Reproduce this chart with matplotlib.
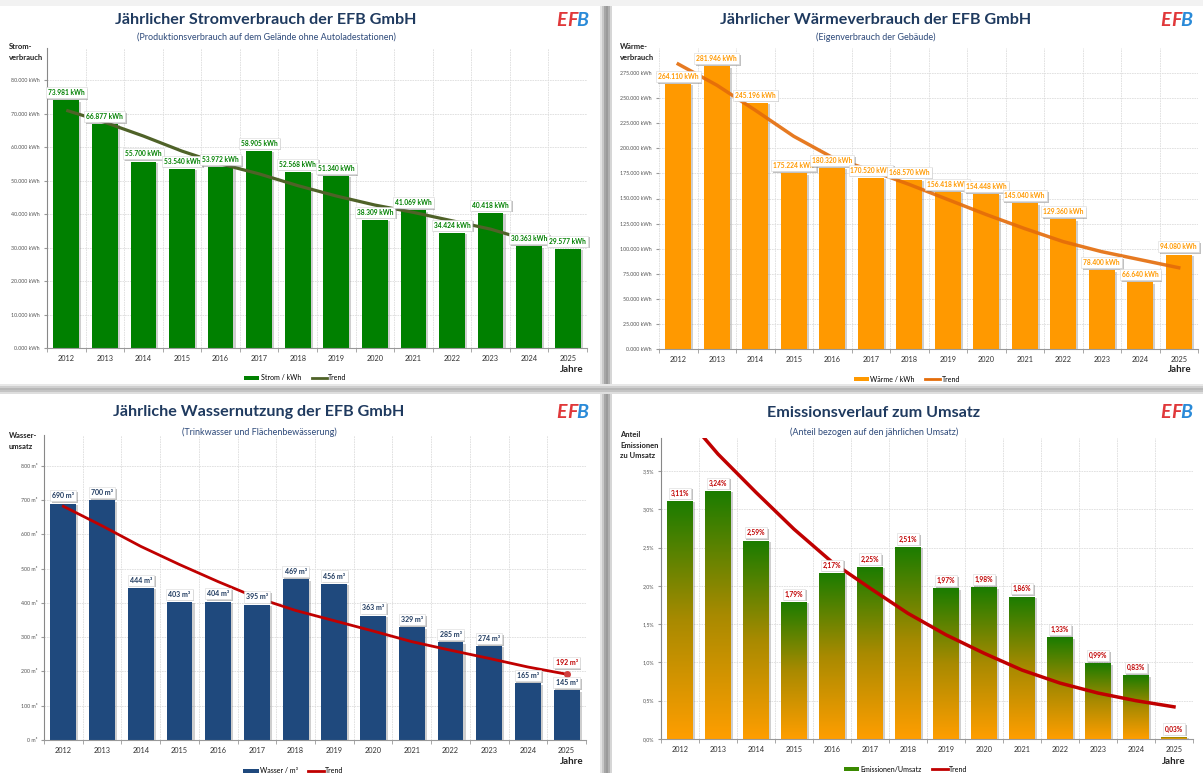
import numpy as np
import matplotlib
matplotlib.use("Agg")
import matplotlib.pyplot as plt
from matplotlib.patches import Rectangle, Patch
from matplotlib.lines import Line2D
from matplotlib.colors import LinearSegmentedColormap
import matplotlib.patheffects as pe

plt.rcParams["font.family"] = ["Lato", "DejaVu Sans"]

years = list(range(2012, 2026))

strom = [73981, 66877, 55700, 53540, 53972, 58905, 52568,
         51340, 38309, 41069, 34424, 40418, 30363, 29577]
strom_trend_years = [2012, 2013, 2014, 2015, 2016, 2017, 2018,
                     2019, 2020, 2021, 2022, 2023, 2023.5]
strom_trend = [71000, 67400, 63300, 58800, 55000, 52000, 48500,
               45400, 42700, 40500, 38000, 35500, 33800]

waerme = [264110, 281946, 245196, 175224, 180320, 170520, 168570,
          156418, 154448, 145040, 129360, 78400, 66640, 94080]
waerme_trend = [284000, 263000, 238000, 212000, 191000, 178000, 164000,
                149000, 134000, 120000, 107000, 97000, 89000, 81000]

wasser = [690, 700, 444, 403, 404, 395, 469, 456, 363, 329, 285, 274, 165, 145]
wasser_trend = [682, 625, 565, 512, 462, 415, 378, 348, 318, 287, 262, 238, 213, 192]

emission = [3.11, 3.24, 2.59, 1.79, 2.17, 2.25, 2.51,
            1.97, 1.98, 1.86, 1.33, 0.99, 0.83, 0.03]
emission_trend = [4.30, 3.72, 3.22, 2.74, 2.31, 1.97, 1.64,
                  1.36, 1.12, 0.90, 0.73, 0.60, 0.50, 0.42]

W, H = 1203, 773
fig = plt.figure(figsize=(W / 100, H / 100), dpi=100)
fig.patch.set_facecolor("white")

NAVY = "#1F3A5F"


def px_axes(l, t, r, b):
    return fig.add_axes([l / W, 1 - b / H, (r - l) / W, (b - t) / H])


def ftext(x, y, s, **kw):
    return fig.text(x / W, 1 - y / H, s, **kw)


def frect(x0, y0, x1, y1, color, z=-5):
    fig.add_artist(Rectangle((x0 / W, 1 - y1 / H), (x1 - x0) / W, (y1 - y0) / H,
                             transform=fig.transFigure, fc=color, ec="none", zorder=z))


# panel separators / shadows
for i, c in enumerate(["#e4e4e4", "#c8c8c8", "#a6a6a6", "#9a9a9a", "#b0b0b0", "#d6d6d6"]):
    frect(600 + 2 * i, 0, 602 + 2 * i, H, c)
for i, c in enumerate(["#e8e8e8", "#cfcfcf", "#b8b8b8", "#c4c4c4", "#dedede"]):
    frect(0, 384 + 2 * i, W, 386 + 2 * i, c)
frect(0, 0, W, 6, "#f2f2f2")


def de_num(v):
    if v == 0:
        return "0.000"
    return f"{v:,.0f}".replace(",", ".")


def logo(x, y):
    ftext(x, y, "E", color="#E0383A", fontsize=14, fontweight="bold",
          fontstyle="italic", va="center", ha="left")
    ftext(x + 11, y, "F", color="#E0383A", fontsize=14, fontweight="bold",
          fontstyle="italic", va="center", ha="left")
    ftext(x + 20, y, "B", color="#2A8AD8", fontsize=14, fontweight="bold",
          fontstyle="italic", va="center", ha="left")


def header(cx, ty, sy, title, sub, lx, ly):
    ftext(cx, ty, title, ha="center", va="center", fontsize=11.6,
          fontweight="bold", color=NAVY)
    ftext(cx, sy, sub, ha="center", va="center", fontsize=6.5, color="#2E4A7A")
    logo(lx, ly)


def base_axes(box, ymax, ticks, fmt, ylab, ylab_xy, jahre_xy):
    ax = px_axes(*box)
    x = np.arange(len(years))
    ax.set_xlim(-0.5, len(years) - 0.5)
    ax.set_ylim(0, ymax)
    ax.set_xticks(x)
    ax.set_xticklabels([str(y) for y in years], fontsize=5.3, color="#333333")
    ax.set_xticks(np.arange(len(years) + 1) - 0.5, minor=True)
    ax.tick_params(axis="x", which="major", length=0, pad=5)
    ax.tick_params(axis="x", which="minor", length=3, color="#999999")
    ax.set_yticks(ticks)
    ax.set_yticklabels([fmt(t) for t in ticks], fontsize=3.8, color="#555555")
    ax.tick_params(axis="y", length=2, color="#999999", pad=3)
    ax.grid(True, which="minor", axis="x", color="#dddddd", lw=0.6, ls=(0, (2, 1)))
    ax.grid(True, which="major", axis="y", color="#dddddd", lw=0.6, ls=(0, (2, 1)))
    ax.set_axisbelow(True)
    for s in ["top", "right"]:
        ax.spines[s].set_visible(False)
    ax.spines["left"].set_color("#888888")
    ax.spines["bottom"].set_color("#999999")
    ax.spines["left"].set_linewidth(0.8)
    ax.spines["bottom"].set_linewidth(0.8)
    ftext(ylab_xy[0], ylab_xy[1], ylab, fontsize=5.5, fontweight="bold",
          color="#222222", va="top", ha="left", linespacing=1.6)
    ftext(jahre_xy[0], jahre_xy[1], "Jahre", fontsize=7, fontweight="bold",
          color="#222222", ha="center", va="center")
    return ax


def value_labels(ax, values, texts, color, fs=4.8):
    for i, (v, s) in enumerate(zip(values, texts)):
        t = ax.annotate(s, (i, v), xytext=(0, 3), textcoords="offset points",
                        ha="center", va="bottom", fontsize=fs, fontweight="bold",
                        color=color, zorder=6,
                        bbox=dict(boxstyle="square,pad=0.3", fc="white",
                                  ec="#d8d8d8", lw=0.4))
        t.get_bbox_patch().set_path_effects(
            [pe.SimplePatchShadow(offset=(1.2, -1.2), shadow_rgbFace="#777777", alpha=0.45),
             pe.Normal()])


def legend(ax, bar_color, label, trend_color):
    handles = [Patch(fc=bar_color, ec="none"),
               Line2D([], [], color=trend_color, lw=2)]
    ax.legend(handles, [label, "Trend"], loc="center", bbox_to_anchor=(0.46, -0.1),
              ncol=2, frameon=False, fontsize=5, handlelength=2.2, handleheight=0.5,
              columnspacing=1.5, handletextpad=0.2)


bar_shadow = [pe.SimplePatchShadow(offset=(1.5, -1), shadow_rgbFace="#888888", alpha=0.4),
              pe.Normal()]
x = np.arange(len(years))

# ---- Strom ----
header(266, 20, 37, "Jährlicher Stromverbrauch der EFB GmbH",
       "(Produktionsverbrauch auf dem Gelände ohne Autoladestationen)", 556, 20)
ax1 = base_axes((47, 48, 587, 348), 89600, np.arange(0, 80001, 10000),
                lambda v: f"{de_num(v)} kWh", "Strom-\nverbrauch", (9, 43), (572, 370))
ax1.bar(x, strom, width=0.67, color="#008000", zorder=2, path_effects=bar_shadow)
ax1.plot([y - 2012 for y in strom_trend_years], strom_trend, color="#4F6228",
         lw=2.3, zorder=4, solid_capstyle="butt")
value_labels(ax1, strom, [f"{de_num(v)} kWh" for v in strom], "#008000")
legend(ax1, "#008000", "Strom / kWh", "#4F6228")

# ---- Wärme ----
header(876, 20, 37, "Jährlicher Wärmeverbrauch der EFB GmbH",
       "(Eigenverbrauch der Gebäude)", 1160, 20)
ax2 = base_axes((659, 48, 1198, 349), 300000, np.arange(0, 275001, 25000),
                lambda v: f"{de_num(v)} kWh", "Wärme-\nverbrauch", (620, 43), (1180, 370))
ax2.spines["left"].set_visible(False)
ax2.bar(x, waerme, width=0.67, color="#FF9900", zorder=2, path_effects=bar_shadow)
ax2.plot(x, waerme_trend, color="#E46C0A", lw=2.5, zorder=4, alpha=0.9)
value_labels(ax2, waerme, [f"{de_num(v)} kWh" for v in waerme], "#FF9900")
legend(ax2, "#FF9900", "Wärme / kWh", "#E46C0A")

# ---- Wasser ----
header(259, 412, 432, "Jährliche Wassernutzung der EFB GmbH",
       "(Trinkwasser und Flächenbewässerung)", 556, 412)
ax3 = base_axes((44, 435, 586, 740), 890, np.arange(0, 801, 100),
                lambda v: f"{v:.0f} m³", "Wasser-\numsatz", (9, 432), (572, 762))
ax3.bar(x, wasser, width=0.67, color="#1F497D", zorder=2, path_effects=bar_shadow)
ax3.plot(x, wasser_trend, color="#C00000", lw=2, zorder=4)
ax3.plot(x[-1], wasser_trend[-1], "o", color="#D04040", ms=4, zorder=4)
value_labels(ax3, wasser, [f"{v} m³" for v in wasser], "#1F3A5F", fs=5)
t = ax3.annotate(f"{wasser_trend[-1]} m³", (x[-1], wasser_trend[-1]), xytext=(0, 6),
                 textcoords="offset points", ha="center", va="bottom", fontsize=5,
                 fontweight="bold", color="#C00000", zorder=6,
                 bbox=dict(boxstyle="square,pad=0.3", fc="white", ec="#d8d8d8", lw=0.4))
t.get_bbox_patch().set_path_effects(
    [pe.SimplePatchShadow(offset=(1.2, -1.2), shadow_rgbFace="#777777", alpha=0.45), pe.Normal()])
legend(ax3, "#1F497D", "Wasser / m³", "#C00000")

# ---- Emissionen ----
header(874, 413, 432, "Emissionsverlauf zum Umsatz",
       "(Anteil bezogen auf den jährlichen Umsatz)", 1160, 412)
ax4 = base_axes((661, 438, 1193, 739), 3.93, np.arange(0, 3.51, 0.5),
                lambda v: f"{v:.1f}%".replace(".", ","),
                "Anteil\nEmissionen\nzu Umsatz", (620, 431), (1174, 761))
grad_cmap = LinearSegmentedColormap.from_list("og", ["#FF9E00", "#A88A00", "#1A7C00"])
bars = ax4.bar(x, emission, width=0.67, color="#FF9E00", zorder=2, path_effects=bar_shadow)
grad = np.linspace(0, 1, 256).reshape(-1, 1)
for b in bars:
    x0, w, h = b.get_x(), b.get_width(), b.get_height()
    im = ax4.imshow(grad, extent=[x0, x0 + w, 0, h], origin="lower", aspect="auto",
                    cmap=grad_cmap, zorder=2.5)
    im.set_clip_path(b)
ax4.set_xlim(-0.5, len(years) - 0.5)
ax4.set_ylim(0, 3.93)
ax4.plot(x, emission_trend, color="#C00000", lw=2.5, zorder=4)
value_labels(ax4, emission, [f"{v:.2f}%".replace(".", ",") for v in emission], "#C00000")
legend(ax4, "#3A8A00", "Emissionen/Umsatz", "#C00000")

fig.savefig("out.png", dpi=100)
